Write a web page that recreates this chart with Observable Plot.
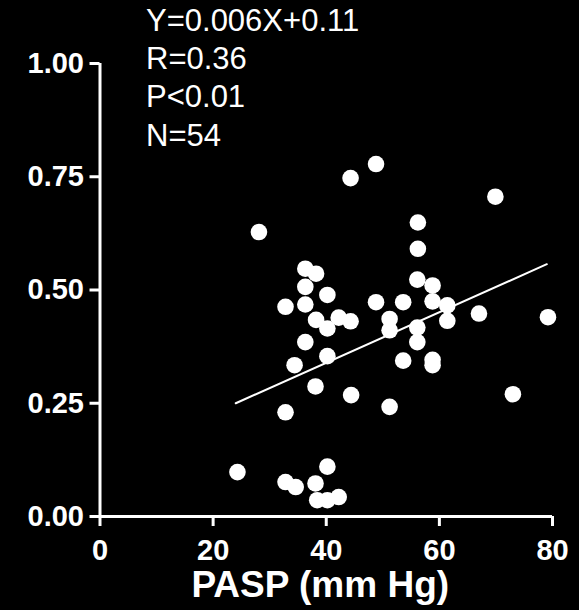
<!DOCTYPE html>
<html><head><meta charset="utf-8">
<script src="https://cdn.jsdelivr.net/npm/d3@7"></script>
<script src="https://cdn.jsdelivr.net/npm/@observablehq/plot@0.6"></script>
<style>
html,body{margin:0;padding:0;background:#000;}
#chart svg{display:block;}
#chart svg g[aria-label^="x-axis"] text,
#chart svg g[aria-label^="y-axis"] text{font-weight:700 !important;}
</style>
</head><body><div id="chart"></div>
<script>
const pasp = [24.3, 28.1, 32.8, 32.8, 32.8, 34.6, 34.4, 36.3, 36.3, 36.3, 36.3, 38.2, 38.2, 38.1, 38.1, 38.4, 40.2, 40.2, 40.2, 40.2, 40.2, 42.2, 42.2, 44.3, 44.3, 44.4, 48.8, 48.8, 51.2, 51.2, 51.2, 53.6, 53.6, 56.2, 56.2, 56.1, 56.1, 56.1, 58.8, 58.8, 58.8, 58.8, 61.4, 61.4, 67.0, 69.9, 73.0, 79.2];
const ratio = [0.098, 0.628, 0.463, 0.230, 0.076, 0.065, 0.334, 0.547, 0.507, 0.468, 0.385, 0.536, 0.434, 0.287, 0.073, 0.036, 0.489, 0.415, 0.354, 0.110, 0.036, 0.439, 0.043, 0.431, 0.747, 0.268, 0.778, 0.473, 0.436, 0.411, 0.242, 0.473, 0.344, 0.649, 0.591, 0.523, 0.417, 0.385, 0.510, 0.475, 0.346, 0.334, 0.466, 0.432, 0.448, 0.706, 0.270, 0.440];
const fitX = [24, 79];
const fitY = [0.25, 0.557];
const xTicks = [0, 20, 40, 60, 80];
const yTicks = [0, 0.25, 0.5, 0.75, 1];
const statLines = ["Y=0.006X+0.11", "R=0.36", "P<0.01", "N=54"];
const xLabel = "PASP (mm Hg)";

const points = pasp.map((x, i) => ({x, y: ratio[i]}));
const fit = fitX.map((x, i) => ({x, y: fitY[i]}));

const chart = Plot.plot({
  width: 579,
  height: 610,
  marginLeft: 99.5,
  marginRight: 27,
  marginTop: 63,
  marginBottom: 94,
  style: {background: "#000", color: "#fff", fontFamily: "'Liberation Sans', Arial, Helvetica, sans-serif"},
  x: {domain: [0, 80]},
  y: {domain: [0, 1]},
  marks: [
    Plot.ruleX([0], {stroke: "#fff", strokeWidth: 3}),
    Plot.ruleY([0], {stroke: "#fff", strokeWidth: 3}),
    Plot.axisY(yTicks, {tickFormat: d3.format(".2f"), tickSize: 10, tickPadding: 6, strokeWidth: 3, fontSize: 29, fontWeight: "bold", label: null}),
    Plot.axisX(xTicks, {tickFormat: d3.format("d"), tickSize: 10, tickPadding: 13, strokeWidth: 3, fontSize: 29, fontWeight: "bold", label: null}),
    Plot.dot(points, {x: "x", y: "y", r: 8.3, fill: "#fff", stroke: null}),
    Plot.line(fit, {x: "x", y: "y", stroke: "#fff", strokeWidth: 2}),
    Plot.text([statLines.join("\n")], {frameAnchor: "top-left", textAnchor: "start", lineAnchor: "top", dx: 46, dy: -60, fontSize: 31, lineHeight: 1.235, fill: "#fff"}),
    Plot.text([xLabel], {frameAnchor: "bottom", lineAnchor: "top", dx: -6, dy: 54, fontSize: 37, fontWeight: "bold", fill: "#fff"})
  ]
});
document.getElementById("chart").appendChild(chart);
</script>
</body></html>
